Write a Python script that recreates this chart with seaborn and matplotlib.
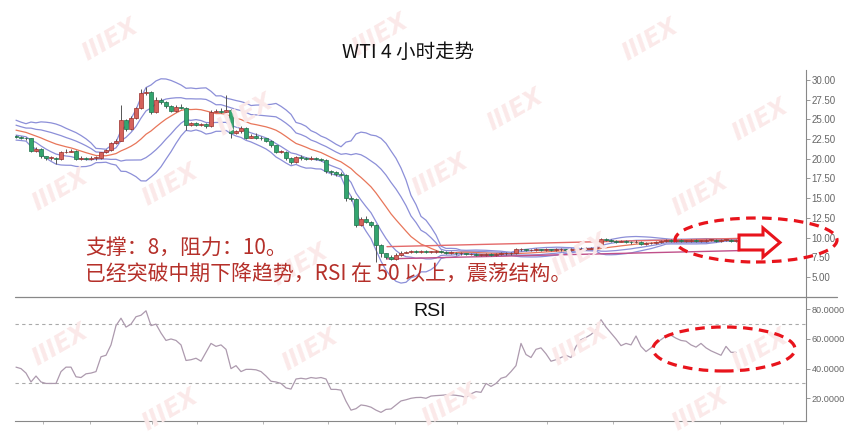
import numpy as np
import pandas as pd
import matplotlib
matplotlib.use("Agg")
import matplotlib.pyplot as plt
import seaborn as sns
from matplotlib.patches import Ellipse, Polygon
from matplotlib.lines import Line2D

sns.set_style("white")
plt.rcParams["font.family"] = ["Noto Sans CJK SC", "DejaVu Sans"]

# WTI 4h candles, open = previous close
first_open = 22.9
close = [
    22.8, 22.7, 22.6, 21.0, 21.3, 20.3, 20.1, 20.1, 20.0, 20.8,
    20.9, 21.0, 20.0, 20.1, 20.0, 20.1, 20.1, 20.8, 21.1, 22.0,
    22.3, 24.9, 23.8, 25.2, 26.4, 28.3, 28.5, 25.9, 27.5, 27.2,
    26.7, 26.1, 26.6, 26.5, 24.3, 24.5, 24.3, 24.4, 24.2, 26.0,
    26.1, 26.0, 26.2, 23.3, 23.5, 23.9, 22.7, 22.9, 22.7, 22.6,
    22.3, 21.7, 20.9, 20.9, 20.1, 19.6, 20.2, 20.1, 20.0, 20.1,
    20.0, 19.9, 18.4, 18.3, 18.1, 18.0, 15.0, 14.9, 11.6, 12.3,
    12.0, 11.6, 9.1, 8.0, 7.6, 7.3, 7.8, 8.1,
    8.2, 8.3, 8.2, 8.3, 8.2, 8.2, 8.3, 8.2, 8.1,
    8.1, 8.0, 8.0, 7.9, 7.9, 7.8, 7.8, 7.9, 7.8, 7.9, 8.0, 8.0,
    8.0, 8.5, 8.5, 8.4, 8.4, 8.5, 8.4, 8.5, 8.4, 8.5, 8.5, 8.4, 8.5, 8.5, 8.6, 8.6, 8.7, 8.8,
    9.8, 9.7, 9.6, 9.5, 9.6, 9.5, 9.4, 9.5,
    9.2, 9.3, 9.3, 9.4,
    9.6, 9.7, 9.6, 9.7, 9.6, 9.6, 9.7, 9.6, 9.6, 9.7, 9.7, 9.6, 9.7, 9.7, 9.6, 9.7,
]
high = [
    23.0, 22.9, 22.8, 22.7, 21.5, 21.4, 20.4, 20.3, 20.2, 21.0,
    21.3, 21.2, 21.1, 20.3, 20.2, 20.3, 20.3, 20.9, 21.3, 22.1,
    22.5, 26.8, 25.0, 25.4, 26.6, 28.8, 29.1, 28.6, 27.8, 27.7,
    27.3, 26.8, 26.8, 26.9, 26.6, 24.7, 24.7, 24.6, 24.5, 26.2,
    26.3, 26.5, 28.1, 26.3, 23.7, 24.1, 24.0, 23.1, 23.3, 22.9,
    22.7, 22.4, 21.8, 21.1, 21.0, 20.2, 20.4, 20.5, 20.2, 20.3,
    20.2, 20.1, 20.0, 18.6, 18.5, 18.3, 18.1, 15.3, 15.0, 12.6,
    12.7, 12.1, 11.7, 9.2, 8.1, 7.8, 8.0, 8.3,
    8.35, 8.45, 8.4, 8.45, 8.4, 8.35, 8.45, 8.4, 8.3,
    8.25, 8.2, 8.15, 8.1, 8.05, 8.0, 7.95, 8.05, 8.0, 8.05, 8.15, 8.2,
    8.15, 8.65, 8.7, 8.6, 8.55, 8.65, 8.6, 8.65, 8.6, 8.65, 8.7, 8.6, 8.65, 8.7, 8.75, 8.8, 8.85, 8.95,
    9.95, 9.95, 9.8, 9.7, 9.75, 9.7, 9.6, 9.65,
    9.6, 9.45, 9.45, 9.55,
    9.75, 9.85, 9.85, 9.85, 9.85, 9.75, 9.85, 9.85, 9.75, 9.85, 9.85, 9.85, 9.85, 9.85, 9.85, 9.85,
]
low = [
    22.6, 22.5, 22.4, 20.9, 20.9, 20.1, 19.9, 19.9, 19.3, 19.9,
    20.7, 20.8, 19.9, 19.9, 19.8, 19.9, 19.9, 20.0, 20.7, 21.0,
    21.9, 22.2, 23.5, 23.7, 25.0, 26.3, 28.1, 25.7, 25.8, 27.0,
    26.5, 25.9, 26.0, 26.3, 23.6, 24.1, 24.1, 24.2, 23.9, 24.0,
    25.9, 25.8, 25.9, 22.7, 23.1, 23.3, 22.5, 22.6, 22.5, 22.4,
    22.1, 21.5, 20.7, 20.7, 19.9, 19.3, 19.5, 19.9, 19.8, 19.9,
    19.8, 19.7, 18.2, 17.9, 17.8, 17.8, 14.6, 14.6, 11.4, 11.5,
    11.8, 11.3, 6.9, 7.6, 7.3, 7.1, 7.2, 7.7,
    8.0, 8.1, 8.1, 8.1, 8.1, 8.05, 8.1, 8.1, 7.95,
    7.95, 7.85, 7.85, 7.75, 7.75, 7.65, 7.65, 7.7, 7.65, 7.7, 7.8, 7.85,
    7.85, 7.95, 8.35, 8.25, 8.25, 8.3, 8.25, 8.3, 8.25, 8.3, 8.35, 8.25, 8.3, 8.35, 8.4, 8.45, 8.5, 8.6,
    8.7, 9.55, 9.45, 9.35, 9.4, 9.35, 9.25, 9.3,
    9.05, 9.1, 9.15, 9.2,
    9.3, 9.5, 9.45, 9.45, 9.45, 9.45, 9.5, 9.45, 9.45, 9.5, 9.55, 9.45, 9.5, 9.55, 9.45, 9.5,
]
# closes just before the visible window, only used to seed the bands
prior_close = [24.8, 24.5, 24.2, 24.3, 23.9, 24.0, 23.6, 23.5, 23.2, 23.3, 23.0, 22.9, 22.9]

rsi = [
    41, 40, 37, 31, 35, 31, 30, 30, 30, 38,
    41, 41, 34.5, 34, 36.5, 37, 38, 48, 49, 56,
    69, 74, 68, 70, 75, 76, 79, 69, 70, 64,
    59, 60, 59, 56, 45.5, 46, 47, 45, 51, 57,
    55, 56, 53, 40, 42, 38, 39.5, 39.5, 39.2, 38,
    35, 31.5, 31, 30, 27, 26.2, 33, 33.5, 33, 34,
    33.5, 34, 33, 26, 26, 25.5, 18, 12, 13, 15.5,
    15, 14, 12, 10.5, 12.5, 12.8, 15.5, 18.2, 19, 20,
    20.5, 20.6, 20, 21.5, 21.8, 22, 22.3, 22.3, 22, 21.5,
    20.6, 23, 24.5, 24, 30, 28, 30, 33.5, 34.5, 38,
    42, 57, 49.5, 47.5, 53, 54, 50, 45, 46, 47.5,
    49, 47.5, 55, 59.5, 61, 63, 66, 73, 68, 64,
    60, 55.5, 57, 56, 62, 55, 51.5, 54, 57.5, 59.5,
    62, 62.5, 60.5, 59, 58.5, 56, 54.5, 57, 54, 52,
    50.5, 49, 55, 51, 51,
]

# hand-drawn channel after the breakout (candle index, price)
channel_x = [74.2, 144.8]
channel_top = [8.85, 9.9]
channel_bottom = [7.3, 8.35]

price_ticks = [5, 7.5, 10, 12.5, 15, 17.5, 20, 22.5, 25, 27.5, 30]
rsi_ticks = [20, 40, 60, 80]
date_ticks = [5.4, 14.8, 27.2, 36.2, 49.4, 62.4, 75.8, 88.2, 106.2, 119.4, 140.8, 153.4]

close = np.array(close)
high = np.array(high)
low = np.array(low)
n = len(close)
idx = np.arange(n)
opens = np.r_[first_open, close[:-1]]

# Bollinger bands (+-1 and +-2 std)
s = pd.Series(prior_close + list(close))
mid = s.rolling(14).mean().iloc[len(prior_close):].to_numpy()
sd = s.rolling(14).std(ddof=0).iloc[len(prior_close):].to_numpy()
bands = pd.DataFrame({"idx": idx, "mid": mid,
                      "up1": mid + sd, "up2": mid + 2 * sd,
                      "lo1": mid - sd, "lo2": mid - 2 * sd})

W, H = 845, 442
fig = plt.figure(figsize=(W / 100, H / 100), dpi=100)
ax = fig.add_axes([15 / W, 1 - 297 / H, (806 - 15) / W, (297 - 70) / H])
ax2 = fig.add_axes([15 / W, 1 - 421 / H, (806 - 15) / W, (421 - 297) / H])

# faint watermark
for (px, py) in [(110, 40), (380, 35), (650, 40), (245, 115), (515, 110), (760, 120),
                 (60, 190), (170, 185), (440, 175), (700, 195), (300, 265), (580, 255),
                 (60, 345), (310, 350), (580, 345), (760, 350), (170, 410), (450, 405), (700, 410)]:
    fig.text(px / W, 1 - py / H, "IIIEX", color="#fbe9e9", fontsize=17, fontweight="bold",
             fontstyle="italic", rotation=30, ha="center", va="center",
             family="DejaVu Sans", zorder=0)

for a in (ax, ax2):
    a.set_facecolor("none")

# bands
band_blue = "#8c8fd8"
for col in ["up2", "up1", "lo1", "lo2"]:
    sns.lineplot(data=bands, x="idx", y=col, ax=ax, color=band_blue, lw=0.9, zorder=2)
sns.lineplot(data=bands, x="idx", y="mid", ax=ax, color="#e8765a", lw=0.9, zorder=2)

# channel lines
ax.plot(channel_x, channel_top, color="#e46a6a", lw=1.0, zorder=2)
ax.plot(channel_x, channel_bottom, color="#c0508a", lw=1.0, zorder=2)

# candles
up = close >= opens
body_lo = np.minimum(opens, close)
body_h = np.maximum(np.abs(close - opens), 0.07)
ax.vlines(idx, low, high, color="#555555", lw=0.7, zorder=3)
ax.bar(idx[up], body_h[up], bottom=body_lo[up], width=0.62,
       color="#d5625b", edgecolor="#9b2f2b", lw=0.5, zorder=4)
ax.bar(idx[~up], body_h[~up], bottom=body_lo[~up], width=0.62,
       color="#33a56f", edgecolor="#1e6f49", lw=0.5, zorder=4)

xlim = (-0.2, 158)
ax.set_xlim(*xlim)
ax.set_ylim(2.46, 31.27)
ax.yaxis.tick_right()
ax.set_yticks(price_ticks)
ax.set_yticklabels([f"{v:.2f}" for v in price_ticks], family="Liberation Sans")
ax.set_xticks([])
ax.set_xlabel("")
ax.set_ylabel("")
for sp in ["left", "top", "bottom"]:
    ax.spines[sp].set_visible(False)
ax.spines["right"].set_color("#888888")
ax.tick_params(axis="y", right=True, length=3, width=0.6, colors="#888888",
               labelsize=7, labelcolor="#666666", pad=1)

# RSI panel
rsi_df = pd.DataFrame({"idx": idx, "rsi": rsi})
ax2.axhline(70, color="#aaaaaa", lw=0.8, ls=(0, (3, 3)), zorder=1)
ax2.axhline(30, color="#aaaaaa", lw=0.8, ls=(0, (3, 3)), zorder=1)
sns.lineplot(data=rsi_df, x="idx", y="rsi", ax=ax2, color="#ad9aae", lw=0.9, zorder=2)
ax2.set_xlim(*xlim)
ax2.set_ylim(4.68, 88.3)
ax2.yaxis.tick_right()
ax2.set_yticks(rsi_ticks)
ax2.set_yticklabels([f"{v:.4f}" for v in rsi_ticks], family="Liberation Sans")
ax2.set_xticks(date_ticks)
ax2.set_xticklabels([])
ax2.set_xlabel("")
ax2.set_ylabel("")
for sp in ["left", "top"]:
    ax2.spines[sp].set_visible(False)
for sp in ["right", "bottom"]:
    ax2.spines[sp].set_color("#888888")
ax2.tick_params(axis="y", right=True, length=3, width=0.6, colors="#888888",
                labelsize=6.6, labelcolor="#666666", pad=1)
ax2.tick_params(axis="x", bottom=True, length=2, width=0.6, colors="#aaaaaa")

# separator between panels
fig.add_artist(Line2D([15 / W, 837 / W], [1 - 297 / H, 1 - 297 / H],
                      transform=fig.transFigure, color="#888888", lw=0.9))

# texts
fig.text(408 / W, 1 - 52 / H, "WTI 4 小时走势", fontsize=14, ha="center", va="center", color="#111111")
fig.text(430 / W, 1 - 311 / H, "RSI", fontsize=14, ha="center", va="center",
         color="#111111", family="Liberation Sans")
note_red = "#b5302a"
fig.text(85 / W, 1 - 248 / H, "支撑：8，阻力：10。", fontsize=15, ha="left", va="center", color=note_red)
fig.text(85 / W, 1 - 275 / H, "已经突破中期下降趋势，RSI 在 50 以上，震荡结构。",
         fontsize=15, ha="left", va="center", color=note_red)

# red markup: ellipses and hollow arrow
mark_red = "#e8141c"
for (cx, cy, ew, eh) in [(756, 240, 162, 44), (724, 349, 142, 44)]:
    fig.add_artist(Ellipse((cx / W, 1 - cy / H), ew / W, eh / H, transform=fig.transFigure,
                           fill=False, edgecolor=mark_red, lw=2.3, ls=(0, (3, 2)), zorder=10))
arrow_px = [(739, 235), (763, 235), (763, 228), (780, 242.5), (763, 257), (763, 250), (739, 250)]
fig.add_artist(Polygon([(x / W, 1 - y / H) for x, y in arrow_px], closed=True,
                       transform=fig.transFigure, facecolor="white", edgecolor=mark_red,
                       lw=2.2, zorder=10))

fig.savefig("out.png", dpi=100)
